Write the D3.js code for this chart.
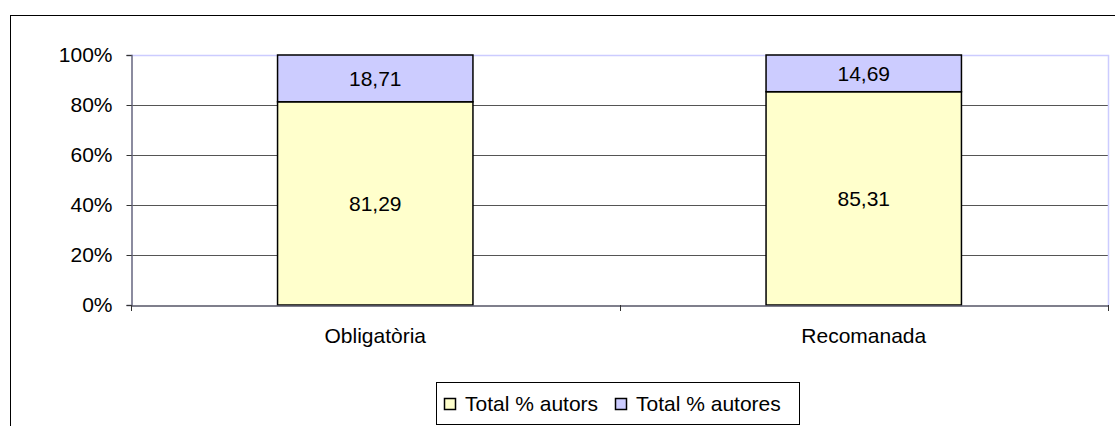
<!DOCTYPE html>
<html><head><meta charset="utf-8">
<script src="https://cdn.jsdelivr.net/npm/d3@7/dist/d3.min.js"></script>
<style>body{margin:0;background:#fff}svg{display:block}text{font-family:"Liberation Sans",Arial,sans-serif}</style>
</head><body>
<script>
const categories = ["Obligatòria", "Recomanada"];
const seriesNames = ["Total % autors", "Total % autores"];
const autors = [81.29, 85.31];
const autores = [18.71, 14.69];
const yTicks = [0, 20, 40, 60, 80, 100];
const colors = ["#FFFFCC", "#CCCCFF"];

const W = 1115, H = 426;
const svg = d3.select("body").append("svg").attr("width", W).attr("height", H);
const fs = 21;
// outer chart border
svg.append("rect").attr("x", 10.5).attr("y", 15.5).attr("width", 1200).attr("height", 500)
  .attr("fill", "#fff").attr("stroke", "#000").attr("stroke-width", 1);

const L = 131, R = 1108, T = 55, B = 305;
const x = d3.scaleBand().domain(categories).range([L, R]).paddingInner(0.6).paddingOuter(0.3);
const y = d3.scaleLinear().domain([0, 100]).range([B, T]);

// gridlines
svg.append("g").selectAll("line").data(yTicks.filter(d => d > 0 && d < 100)).join("line")
  .attr("x1", L).attr("x2", R).attr("y1", d => Math.round(y(d)) + 0.5).attr("y2", d => Math.round(y(d)) + 0.5)
  .attr("stroke", "#555").attr("stroke-width", 1);
// plot area border top/right
svg.append("path").attr("d", `M${L},${T + 0.5}H${R + 0.5}V${B}`).attr("fill", "none")
  .attr("stroke", "#CCCCFF").attr("stroke-width", 1.5);

// stacked bars
const stackData = categories.map((c, i) => ({cat: c, a: autors[i], b: autores[i]}));
const stack = d3.stack().keys(["a", "b"])(stackData);
const g = svg.append("g");
stack.forEach((layer, li) => {
  g.selectAll(null).data(layer).join("rect")
    .attr("x", d => x(d.data.cat)).attr("width", x.bandwidth())
    .attr("y", d => y(d[1])).attr("height", d => y(d[0]) - y(d[1]))
    .attr("fill", colors[li]).attr("stroke", "#000").attr("stroke-width", 1.5);
  g.selectAll(null).data(layer).join("text")
    .attr("x", d => x(d.data.cat) + x.bandwidth() / 2)
    .attr("y", d => (y(d[0]) + y(d[1])) / 2)
    .attr("dy", "0.35em").attr("text-anchor", "middle").attr("font-size", fs).attr("fill", "#000")
    .text(d => (d[1] - d[0]).toFixed(2).replace(".", ","));
});

// y axis
const yAxis = svg.append("g").attr("transform", `translate(${L + 0.5},0)`)
  .call(d3.axisLeft(y).tickValues(yTicks).tickSize(5).tickPadding(14).tickFormat(d => d + "%"));
yAxis.select(".domain").attr("stroke", "#666680").attr("stroke-width", 1.5);
yAxis.selectAll(".tick line").attr("stroke", "#333");
yAxis.selectAll("text").attr("font-size", fs).attr("fill", "#000").attr("font-family", "Liberation Sans, Arial, sans-serif");

// x axis
const xAxis = svg.append("g").attr("transform", `translate(0,${B + 0.5})`)
  .call(d3.axisBottom(x).tickSize(0).tickPadding(23));
xAxis.select(".domain").attr("stroke", "#555566").attr("stroke-width", 1.5);
xAxis.selectAll("text").attr("font-size", fs).attr("fill", "#000").attr("font-family", "Liberation Sans, Arial, sans-serif");
// category separator ticks
const sepTicks = [L, (L + R) / 2, R];
svg.append("g").selectAll("line").data(sepTicks).join("line")
  .attr("x1", d => Math.round(d) + 0.5).attr("x2", d => Math.round(d) + 0.5)
  .attr("y1", B).attr("y2", B + 6).attr("stroke", "#333");

// legend
const lg = svg.append("g");
lg.append("rect").attr("x", 436.5).attr("y", 382.5).attr("width", 363).attr("height", 42)
  .attr("fill", "#fff").attr("stroke", "#000");
const legX = [444, 615];
seriesNames.forEach((n, i) => {
  lg.append("rect").attr("x", legX[i] + 0.5).attr("y", 398.5).attr("width", 11).attr("height", 11)
    .attr("fill", colors[i]).attr("stroke", "#000").attr("stroke-width", 1.5);
  lg.append("text").attr("x", legX[i] + 21).attr("y", 404).attr("dy", "0.35em")
    .attr("font-size", fs).attr("fill", "#000").text(n);
});
</script>
</body></html>
